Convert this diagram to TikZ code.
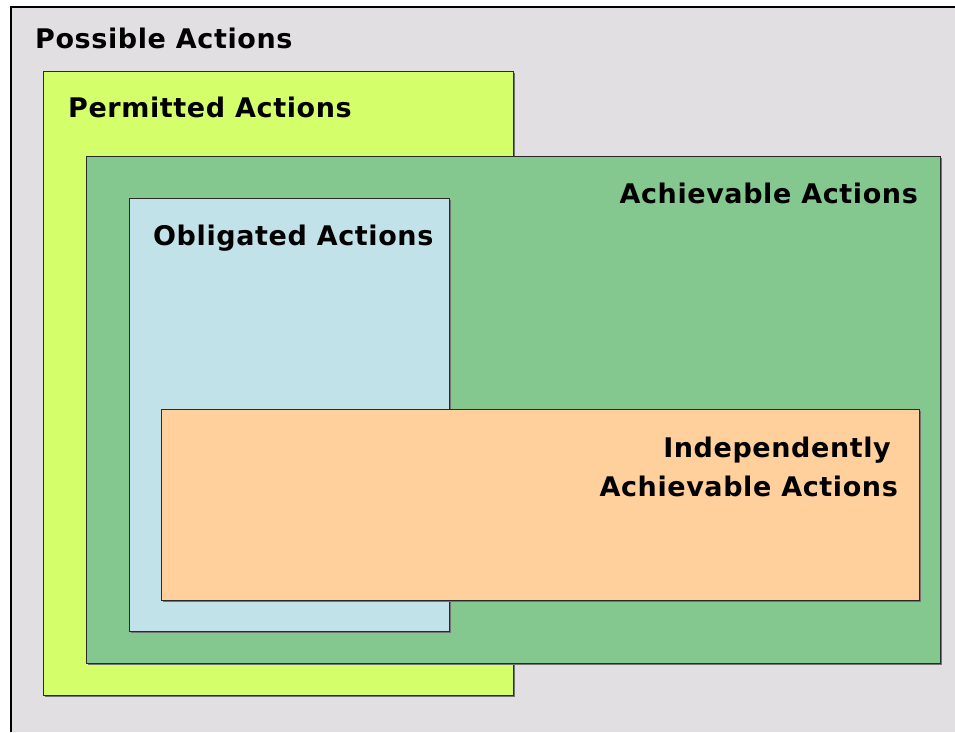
\documentclass[tikz,border=0pt]{standalone}
\usepackage{fontspec}
\setmainfont{DejaVu Sans}[LetterSpace=2.2]
\begin{document}
\definecolor{bgpossible}{HTML}{E2DFE2}
\definecolor{fillpermitted}{HTML}{D4FF6A}
\definecolor{fillachievable}{HTML}{85C88F}
\definecolor{fillobligated}{HTML}{C0E2E8}
\definecolor{fillindep}{HTML}{FFCF9C}
\definecolor{edge}{HTML}{2A2A2A}
\begin{tikzpicture}[x=1pt,y=-1pt,
  region/.style={draw=edge, line width=1.4pt},
  shade/.style={fill=black!55},
  caption/.style={font=\bfseries\fontsize{27}{32}\selectfont, inner sep=0pt}]
  \useasboundingbox (0,0) rectangle (955,732);
  % canvas of all possible actions
  \fill[bgpossible] (11,7) rectangle (955,732);
  \draw[line width=1.6pt] (11,732) -- (11,7) -- (955,7);
  \node[caption, anchor=base west] (possible) at (35,48) {Possible Actions};

  % permitted actions
  \fill[shade] (45,73) rectangle (515,697);
  \node[region, fill=fillpermitted, minimum width=470pt, minimum height=624pt, anchor=north west, inner sep=0pt] (permitted) at (43,71) {};
  \node[caption, anchor=base west] (permittedlabel) at (68,117) {Permitted Actions};

  % achievable actions
  \fill[shade] (88,158) rectangle (942,665);
  \node[region, fill=fillachievable, minimum width=854pt, minimum height=507pt, anchor=north west, inner sep=0pt] (achievable) at (86,156) {};
  \node[caption, anchor=base east] (achievablelabel) at (918,203) {Achievable Actions};

  % obligated actions
  \fill[shade] (131,200) rectangle (451,633);
  \node[region, fill=fillobligated, minimum width=320pt, minimum height=433pt, anchor=north west, inner sep=0pt] (obligated) at (129,198) {};
  \node[caption, anchor=base west] (obligatedlabel) at (153,245) {Obligated Actions};

  % independently achievable actions
  \fill[shade] (163,411) rectangle (921,602);
  \node[region, fill=fillindep, minimum width=758pt, minimum height=191pt, anchor=north west, inner sep=0pt] (indep) at (161,409) {};
  \node[caption, anchor=base east] (indeplabel1) at (891,457) {Independently};
  \node[caption, anchor=base east] (indeplabel2) at (898,496) {Achievable Actions};
\end{tikzpicture}
\end{document}
